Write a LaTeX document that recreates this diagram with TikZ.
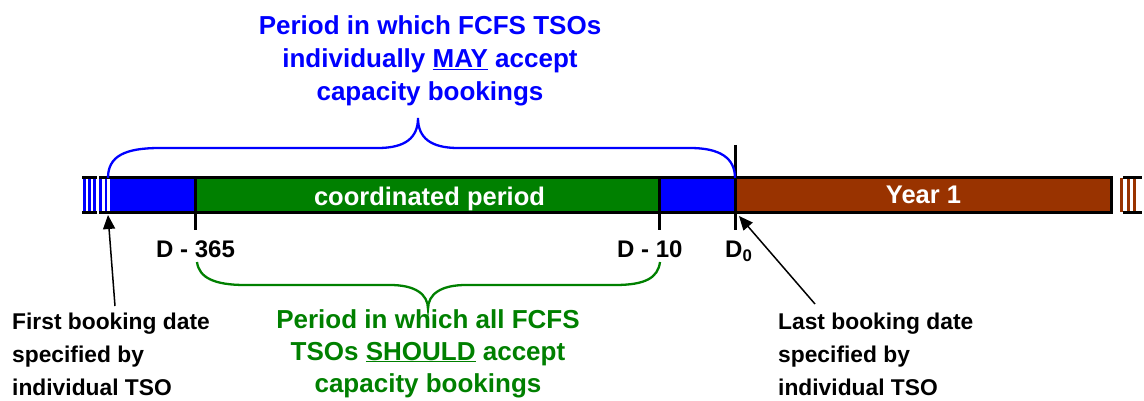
\documentclass[tikz,border=0pt]{standalone}
\usepackage{fontspec}
\setmainfont{Liberation Sans}
\usetikzlibrary{arrows.meta}
\definecolor{myblue}{RGB}{0,0,255}
\definecolor{mygreen}{RGB}{0,128,0}
\definecolor{mybrown}{RGB}{153,51,0}
\tikzset{
  bluetxt/.style={anchor=base,inner sep=0pt,text=myblue,font=\fontsize{26}{30}\selectfont\bfseries},
  greentxt/.style={anchor=base,inner sep=0pt,text=mygreen,font=\fontsize{26}{30}\selectfont\bfseries},
  bartxt/.style={anchor=base,inner sep=0pt,text=white,font=\fontsize{25.5}{30}\selectfont\bfseries},
  datetxt/.style={anchor=base west,inner sep=0pt,text=black,font=\fontsize{24}{28}\selectfont\bfseries},
  notetxt/.style={anchor=base west,inner sep=0pt,text=black,font=\fontsize{22.8}{28}\selectfont\bfseries},
  border/.style={line width=3pt,black},
  tick/.style={line width=3pt,black},
  brace/.style={line width=2.3pt},
  pointer/.style={line width=1.5pt,black,-{Triangle[length=14pt,width=12pt]}}
}
\begin{document}
\begin{tikzpicture}[x=1pt,y=-1pt]
\useasboundingbox (0,0) rectangle (1144,401);
% bar fills
\fill[myblue] (99,178) rectangle (195,212.5);
\fill[mygreen] (195,178) rectangle (659,212.5);
\fill[myblue] (659,178) rectangle (735,212.5);
\fill[mybrown] (735,178) rectangle (1111,212.5);
% left broken end
\foreach \x in {83,88,93} \fill[myblue] (\x,178) rectangle (\x+3,212.5);
\fill[white] (102,178) rectangle (104.5,212.5);
\fill[white] (107,178) rectangle (109.5,212.5);
% right broken end
\foreach \x in {1120,1126.5,1133} \fill[mybrown] (\x,178) rectangle (\x+3,212.5);
% borders
\draw[border] (82,178) -- (97,178) (82,212.5) -- (97,212.5);
\draw[border] (99,178) -- (1111,178) (99,212.5) -- (1111,212.5);
\draw[border] (1111,176.5) -- (1111,214);
\draw[border] (1123,178) -- (1142,178) (1123,212.5) -- (1142,212.5);
% ticks
\draw[tick] (195,178) -- (195,230);
\draw[tick] (659,178) -- (659,230);
\draw[tick] (735,145) -- (735,230);
% bar labels
\node[bartxt] (coord) at (429.5,205) {coordinated period};
\node[bartxt] (year) at (923.5,204) {Year 1};
% date labels
\node[datetxt] (d365) at (156,258) {D - 365};
\node[datetxt] (d10) at (617,258) {D - 10};
\node[datetxt] (d0) at (725,258) {D\textsubscript{0}};
% blue brace
\draw[brace,myblue] (108,178) .. controls (108,156) and (125,148) .. (160,148) -- (378,148)
  .. controls (405,148) and (418,138) .. (418,118)
  .. controls (418,138) and (431,148) .. (458,148) -- (690,148)
  .. controls (720,148) and (735,158) .. (735,178);
% green brace
\draw[brace,mygreen] (197,262) .. controls (199,278) and (215,285) .. (245,285) -- (390,285)
  .. controls (415,285) and (428,294) .. (428,309)
  .. controls (428,294) and (441,285) .. (466,285) -- (615,285)
  .. controls (645,285) and (658,278) .. (660,262);
% blue text
\node[bluetxt] (b1) at (430,35) {Period in which FCFS TSOs};
\node[bluetxt] (b2) at (430,68) {individually \underline{MAY} accept};
\node[bluetxt] (b3) at (430,101) {capacity bookings};
% green text
\node[greentxt] (g1) at (428,328) {Period in which all FCFS};
\node[greentxt] (g2) at (428,360) {TSOs \underline{SHOULD} accept};
\node[greentxt] (g3) at (428,392) {capacity bookings};
% notes
\node[notetxt] (f1) at (12,329) {First booking date};
\node[notetxt] (f2) at (12,362) {specified by};
\node[notetxt] (f3) at (12,395) {individual TSO};
\node[notetxt] (l1) at (778,329) {Last booking date};
\node[notetxt] (l2) at (778,362) {specified by};
\node[notetxt] (l3) at (778,395) {individual TSO};
% arrows
\coordinate (fa) at (115,306);
\coordinate (fb) at (108,215);
\coordinate (la) at (815,304);
\coordinate (lb) at (739,216);
\draw[pointer] (fa) -- (fb);
\draw[pointer] (la) -- (lb);
\end{tikzpicture}
\end{document}
